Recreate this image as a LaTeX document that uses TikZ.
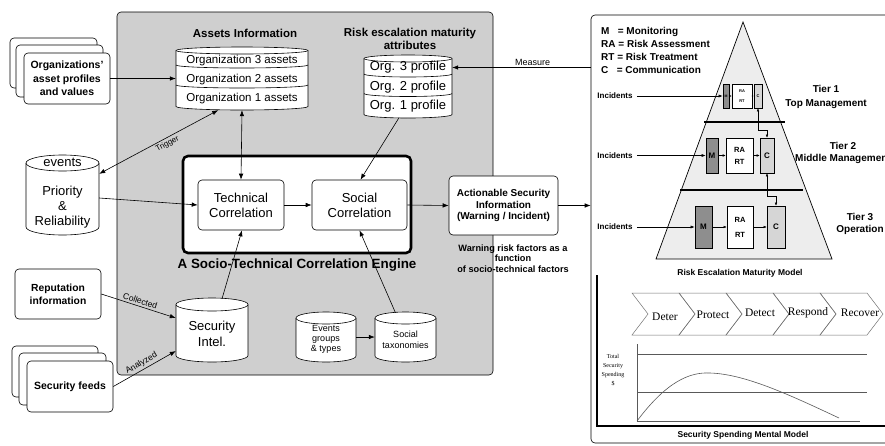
\documentclass[tikz,border=0pt]{standalone}
\usepackage{fontspec}
\setmainfont{Liberation Sans}
\newfontfamily\serifx{Liberation Serif}
\usetikzlibrary{arrows.meta,calc}
\newcommand\fsz[2]{\fontsize{#1}{#2}\selectfont}
\definecolor{panelgray}{HTML}{CFCFCF}
\definecolor{pyrgray}{HTML}{EDEDED}
\definecolor{mgray}{HTML}{8E8E8E}
\definecolor{cgray}{HTML}{D6D6D6}
\newcommand\cylinderdraw[5]{%
  \pgfmathsetmacro\cylrx{(#3-#1)/2}%
  \filldraw[cyl] (#1,#2+#5) -- (#1,#4-#5)
     arc[start angle=180,end angle=0,x radius=\cylrx,y radius=#5]
     -- (#3,#2+#5)
     arc[start angle=0,end angle=-180,x radius=\cylrx,y radius=#5] -- cycle;
  \draw[cyl] (#1,#2+#5) arc[start angle=180,end angle=0,x radius=\cylrx,y radius=#5];
}
\begin{document}
\begin{tikzpicture}[x=1pt,y=-1pt,
  arr/.style={-{Latex[length=6pt,width=4.5pt]}, line width=0.6pt},
  darr/.style={{Latex[length=6pt,width=4.5pt]}-{Latex[length=6pt,width=4.5pt]}, line width=0.6pt},
  iarr/.style={-{Latex[length=4pt,width=3pt]}, line width=0.5pt},
  sarr/.style={-{Latex[length=3pt,width=2.5pt]}, line width=0.4pt},
  tarr/.style={-{Latex[length=1.8pt,width=1.5pt]}, line width=0.3pt},
  dsarr/.style={{Latex[length=3pt,width=2.5pt]}-{Latex[length=3pt,width=2.5pt]}, line width=0.4pt},
  rbox/.style={draw, rounded corners=4pt, fill=white, align=center, inner sep=0pt, line width=0.6pt},
  doc/.style={draw, rounded corners=4pt, fill=white, line width=0.6pt},
  cyl/.style={draw, fill=white, line width=0.6pt},
  txt/.style={align=center, inner sep=0pt},
  bt/.style={txt, font=\bfseries},
  tbox/.style={draw, line width=0.6pt, inner sep=0pt, align=center},
  chev/.style={draw=black!55, line width=0.5pt},
  chartline/.style={draw=black!65, line width=0.6pt},
  lbl/.style={inner sep=2pt}
]
\useasboundingbox (0,0) rectangle (885,445);

% panels
\node[draw, fill=panelgray, rounded corners=4pt, minimum width=376pt, minimum height=363pt, line width=0.6pt] (panel) at (305,193.5) {};
\node[draw, fill=white, rounded corners=4pt, minimum width=304pt, minimum height=428pt, line width=0.6pt] (rpanel) at (743,229) {};

% organizations stack
\draw[doc] (10,38) rectangle (97,88);
\draw[doc] (16,45) rectangle (103,97);
\node[rbox, minimum width=86pt, minimum height=51pt, font=\bfseries\fsz{10.5}{13.5}] (orgs) at (67,78.5) {Organizations'\\asset profiles\\and values};

% assets information
\node[bt, font=\bfseries\fsz{11.5}{13}] (atitle) at (245,33) {Assets Information};
\cylinderdraw{176}{47}{308}{110}{3.5}
\draw[line width=0.6pt] (176,65) arc[start angle=180,end angle=0,x radius=66,y radius=3];
\draw[line width=0.6pt] (176,85) arc[start angle=180,end angle=0,x radius=66,y radius=3];
\node[txt, minimum width=132pt, minimum height=15pt, font=\fsz{11.5}{13}] (a3) at (242,60.5) {Organization 3 assets};
\node[txt, minimum width=132pt, minimum height=19pt, font=\fsz{11.5}{13}] (a2) at (242,79.5) {Organization 2 assets};
\node[txt, minimum width=132pt, minimum height=19pt, font=\fsz{11.5}{13}] (a1) at (242,98.5) {Organization 1 assets};

% risk escalation attributes
\node[bt, font=\bfseries\fsz{11.5}{13}] (rtitle) at (410,38.5) {Risk escalation maturity\\attributes};
\cylinderdraw{364}{55}{452}{118}{3.5}
\draw[line width=0.6pt] (364,74) arc[start angle=180,end angle=0,x radius=44,y radius=3];
\draw[line width=0.6pt] (364,93.5) arc[start angle=180,end angle=0,x radius=44,y radius=3];
\node[txt, minimum width=88pt, minimum height=15pt, font=\fsz{13}{15}] (p3) at (408,67.5) {Org. 3 profile};
\node[txt, minimum width=88pt, minimum height=19pt, font=\fsz{13}{15}] (p2) at (408,87) {Org. 2 profile};
\node[txt, minimum width=88pt, minimum height=19pt, font=\fsz{13}{15}] (p1) at (408,106) {Org. 1 profile};

% events cylinder
\cylinderdraw{26}{155}{99}{235}{8}
\node[txt, minimum width=73pt, minimum height=80pt] (evt) at (62.5,195) {};
\node[txt, font=\fsz{13}{15}] (evlabel) at (62.5,162) {events};
\node[txt, font=\fsz{13}{15}] (prio) at (62.5,207) {Priority\\\&\\Reliability};

% engine
\node[draw, line width=2.6pt, rounded corners=5pt, fill=white, minimum width=228pt, minimum height=97pt] (eng) at (297,204.5) {};
\node[rbox, minimum width=86pt, minimum height=50pt, font=\fsz{13}{15}] (tech) at (241,205) {Technical\\Correlation};
\node[rbox, minimum width=95pt, minimum height=50pt, font=\fsz{13}{15}] (social) at (359.5,205) {Social\\Correlation};
\node[bt, font=\bfseries\fsz{13.4}{15}] (engt) at (297,265) {A Socio-Technical Correlation Engine};

% actionable
\node[rbox, minimum width=109pt, minimum height=59pt, font=\bfseries\fsz{10}{11.5}] (act) at (503.5,205.5) {Actionable Security\\Information\\(Warning / Incident)};
\node[bt, font=\bfseries\fsz{9.2}{10.5}] (warn) at (513,258.5) {Warning risk factors as a\\function\\of socio-technical factors};

% reputation and feeds
\node[rbox, minimum width=86pt, minimum height=50pt, font=\bfseries\fsz{10.3}{13}] (rep) at (58,294) {Reputation\\information};
\draw[doc] (12,346) rectangle (98,397);
\draw[doc] (19,353) rectangle (106,405);
\node[rbox, minimum width=86pt, minimum height=51pt, font=\bfseries\fsz{10.5}{13}] (feeds) at (70,386.5) {Security feeds};

% security intel
\cylinderdraw{176}{298}{248}{362}{6.5}
\node[txt, minimum width=72pt, minimum height=64pt] (si) at (212,330) {};
\node[txt, font=\fsz{13}{16}] (silabel) at (212,334) {Security\\Intel.};

% events groups / social taxonomies
\cylinderdraw{296}{312}{356}{362}{6}
\node[txt, minimum width=60pt, minimum height=50pt] (eg) at (326,337) {};
\node[txt, font=\fsz{9}{10}] (eglabel) at (326,339) {Events\\groups\\\& types};
\cylinderdraw{375}{312}{436}{362}{6}
\node[txt, minimum width=61pt, minimum height=50pt] (st) at (405.5,337) {};
\node[txt, font=\fsz{9}{11}] (stlabel) at (405.5,339.5) {Social\\taxonomies};

% connectors (left / center)
\draw[arr] (orgs.east) -- (orgs.east -| a2.west);
\draw[darr] (evt.30) -- node[below, sloped, lbl, font=\fsz{8}{9}, pos=0.55] {Trigger} ($(a1.south west)!0.32!(a1.south east)+(0,2)$);
\draw[darr] ($(a1.south)+(0,2)$) -- (tech.north);
\draw[arr] ($(evt.east)+(0,3)$) -- (tech.west);
\draw[arr] (tech.east) -- (social.west);
\draw[arr] ($(p1.south)+(-9,2)$) -- ($(social.north)+(1,0)$);
\draw[arr] (social.east) -- (act.west);
\draw[arr] (act.east) -- (act.east -| rpanel.west);
\draw[arr] ($(si.north)+(10,1)$) -- ($(tech.south)+(1,0)$);
\draw[arr] ($(st.north)+(-10,1)$) -- (social.south);
\draw[arr] (eg.east) -- (st.west);
\draw[arr] (rep.east) -- node[above, sloped, lbl, font=\fsz{8.5}{9}] {Collected} ($(si.west)+(0,-12)$);
\draw[arr] (feeds.east) -- node[above, sloped, lbl, font=\fsz{8.5}{9}] {Analyzed} ($(si.west)+(0,21)$);
\draw[arr] (rpanel.west |- p3.east) -- node[above, lbl, font=\fsz{9}{10}, pos=0.42] (meas) {Measure} (p3.east);

% legend
\node[bt, anchor=west, align=left, font=\bfseries\fsz{10}{13}] (legend) at (601,50.5) {M\ \ \ = Monitoring\\RA = Risk Assessment\\RT = Risk Treatment\\C\ \ \ = Communication};

% pyramid
\draw[fill=pyrgray, line width=0.7pt] (743,22) -- (832,259) -- (656,259) -- cycle;
\draw[line width=1.2pt] (704,122) -- (785,122);
\draw[line width=1.2pt] (680,190) -- (803,190);

% tier 1
\node[tbox, fill=mgray, minimum width=6pt, minimum height=24pt, font=\bfseries\fsz{3.5}{4}] (t1m) at (726,96) {M};
\node[tbox, fill=white, minimum width=20pt, minimum height=24pt, font=\bfseries\fsz{4}{10}] (t1r) at (742,96) {RA\\RT};
\node[tbox, fill=cgray, minimum width=8pt, minimum height=24pt, font=\bfseries\fsz{4}{5}] (t1c) at (758,96) {C};
\draw[tarr] (t1m.east) -- (t1r.west);
\draw[tarr] (t1r.east) -- (t1c.west);
% tier 2
\node[tbox, fill=mgray, minimum width=12pt, minimum height=35pt, font=\bfseries\fsz{8}{9}] (t2m) at (712,155.5) {M};
\node[tbox, fill=white, minimum width=27pt, minimum height=35pt, font=\bfseries\fsz{7.5}{12}] (t2r) at (739.5,155.5) {RA\\RT};
\node[tbox, fill=cgray, minimum width=14pt, minimum height=35pt, font=\bfseries\fsz{8}{9}] (t2c) at (767,155.5) {C};
\draw[sarr] (t2m.east) -- (t2r.west);
\draw[sarr] (t2r.east) -- (t2c.west);
% tier 3
\node[tbox, fill=mgray, minimum width=17pt, minimum height=42pt, font=\bfseries\fsz{8}{9}] (t3m) at (703.5,227) {M};
\node[tbox, fill=white, minimum width=26pt, minimum height=42pt, font=\bfseries\fsz{7.5}{15}] (t3r) at (740,227) {RA\\RT};
\node[tbox, fill=cgray, minimum width=18pt, minimum height=42pt, font=\bfseries\fsz{8}{9}] (t3c) at (776,227) {C};
\draw[sarr] (t3m.east) -- (t3r.west);
\draw[sarr] (t3r.east) -- (t3c.west);
% tier links
\draw[dsarr] (t1c.south) -- ++(0,22) -| (t2c.north);
\draw[dsarr] (t2c.south) -- ++(0,23) -| (t3c.north);

% incidents
\node[bt, font=\bfseries\fsz{8}{9}] (inc1) at (615,96) {Incidents};
\node[bt, font=\bfseries\fsz{8}{9}] (inc2) at (615,155.5) {Incidents};
\node[bt, font=\bfseries\fsz{8}{9}] (inc3) at (615,227) {Incidents};
\draw[iarr, shorten <=4pt] (inc1.east) -- (t1m.west);
\draw[iarr, shorten <=4pt] (inc2.east) -- (t2m.west);
\draw[iarr, shorten <=4pt] (inc3.east) -- (t3m.west);

% tier labels
\node[bt, font=\bfseries\fsz{10}{14}] (tier1) at (826,97) {Tier 1\\Top Management};
\node[bt, font=\bfseries\fsz{10}{12}] (tier2) at (843,153) {Tier 2\\Middle Management};
\node[bt, font=\bfseries\fsz{10}{12}] (tier3) at (860,224) {Tier 3\\Operation};
\node[bt, font=\bfseries\fsz{8.5}{10}] (remm) at (740,273) {Risk Escalation Maturity Model};

% spending chart
\draw[line width=1.1pt] (597,275) -- (597,426) -- (890,426);
\foreach \s in {632,679,726,773,820}
  \draw[chev] (\s,293) -- (\s+47,293) -- (\s+63,314) -- (\s+47,335) -- (\s,335) -- (\s+16,314) -- cycle;
\node[txt, font=\serifx\fsz{11.5}{13}] (c1) at (665,317) {Deter};
\node[txt, font=\serifx\fsz{11.5}{13}] (c2) at (713,315) {Protect};
\node[txt, font=\serifx\fsz{11.5}{13}] (c3) at (760,313) {Detect};
\node[txt, font=\serifx\fsz{11.5}{13}] (c4) at (808,313) {Respond};
\node[txt, font=\serifx\fsz{11.5}{13}] (c5) at (860,313) {Recover};
\draw[chartline] (637,344) -- (637,421) -- (860,421);
\draw[chartline] (637,354) -- (867,354);
\draw[chartline] (637,392) -- (867,392);
\draw[chartline] (637,421) .. controls (667,381) and (690,372) .. (710,373) .. controls (745,374) and (790,395) .. (839,418);
\node[txt, font=\serifx\fsz{6}{9}] (ylab) at (613,370) {Total\\Security\\Spending\\\$};
\node[bt, font=\bfseries\fsz{8.5}{10}] (ssmm) at (743,435) {Security Spending Mental Model};
\end{tikzpicture}
\end{document}
